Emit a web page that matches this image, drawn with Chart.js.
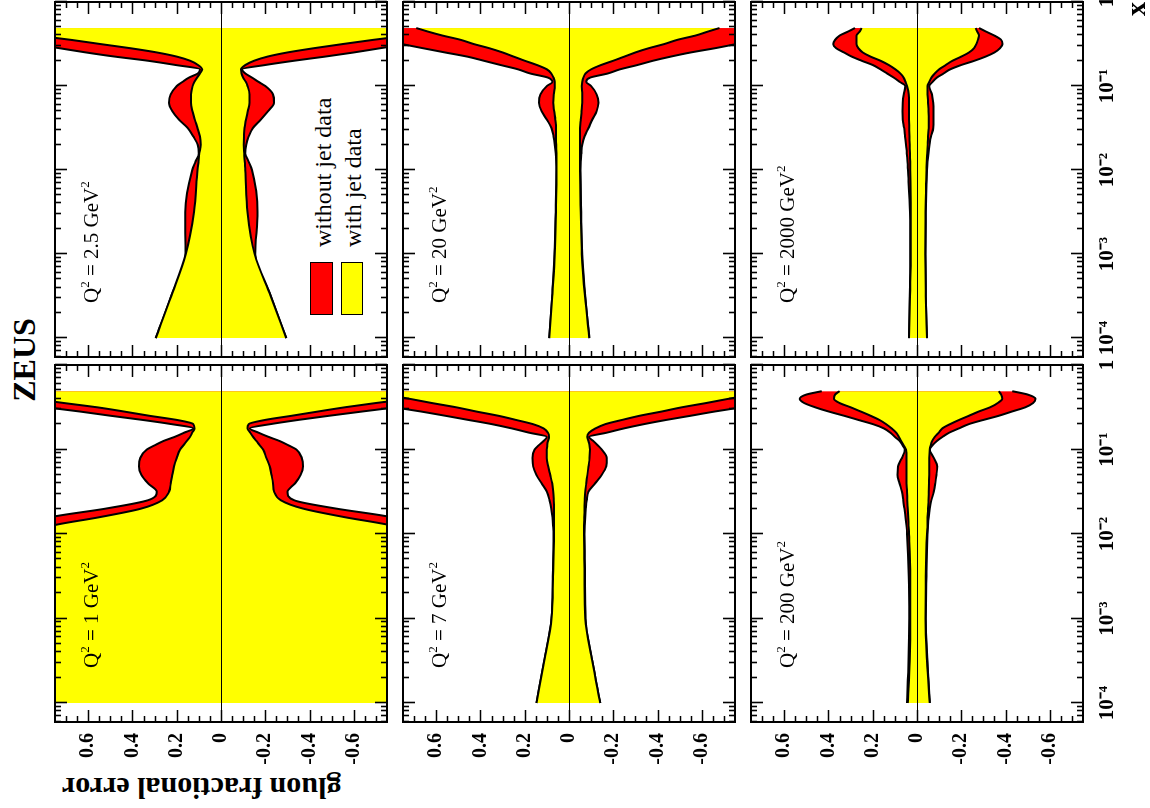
<!DOCTYPE html>
<html lang="en">
<head>
  <meta charset="UTF-8" />
  <title>ZEUS gluon fractional error</title>
  <script src="https://cdn.jsdelivr.net/npm/chart.js"></script>
  <style>
    html, body { margin: 0; padding: 0; background: #fff; overflow: hidden; }
    body { width: 1150px; height: 808px; position: relative; font-family: 'Liberation Serif', 'Times New Roman', serif; color: #000; }
    /* the figure is laid out upright (808 x 1150) and turned a quarter left */
    #page { position: absolute; left: 0; top: 0; width: 808px; height: 1150px; transform-origin: 0 0; transform: translate(0, 808px) rotate(-90deg); }
    #page canvas { position: absolute; }
    .txt { position: absolute; white-space: nowrap; }
    .q2 { font-size: 21px; line-height: 21px; }
    .q2 sup { font-size: 13px; vertical-align: 9px; line-height: 0; }
    .zeus { left: 348px; top: 8px; width: 200px; text-align: center; font-size: 32px; line-height: 32px; font-weight: bold; }
    .ytitle { left: 5px; top: 343px; width: 281px; text-align: right; font-size: 30px; line-height: 30px; font-weight: bold; transform-origin: 0 0; transform: rotate(-90deg); }
    .box { position: absolute; box-sizing: border-box; border: 1.5px solid #000; }
    .leg { font-size: 24px; line-height: 24px; }
  </style>
</head>
<body>
  <div id="page">
    <div class="txt zeus">ZEUS</div>
    <div class="txt ytitle">gluon fractional error</div>
    <div class="box" style="left:493px; top:310px; width:53px; height:23px; background:#ff0000;"></div>
    <div class="box" style="left:493px; top:341px; width:53px; height:22px; background:#ffff00;"></div>
    <div class="txt leg" style="left:561px; top:311px;">without jet data</div>
    <div class="txt leg" style="left:561px; top:341px;">with jet data</div>
  </div>

  <script>
    // x grid shared by all panels
    const xGrid = [0.0001, 0.000316, 0.001, 0.00316, 0.01, 0.0126, 0.0158, 0.02, 0.0251, 0.0316,
                   0.0398, 0.0501, 0.0631, 0.0794, 0.1, 0.112, 0.126, 0.141, 0.158, 0.178,
                   0.2, 0.224, 0.251, 0.282, 0.316, 0.355, 0.398, 0.447, 0.49];

    const xTickValues = [0.0001, 0.001, 0.01, 0.1, 1];
    const xTickLabels = ['10⁻⁴', '10⁻³', '10⁻²', '10⁻¹', '1'];
    const yTickValues = [-0.6, -0.4, -0.2, 0, 0.2, 0.4, 0.6];
    const yTickLabels = ['-0.6', '-0.4', '-0.2', '0', '0.2', '0.4', '0.6'];
    const q2Labels = ['1', '2.5', '7', '20', '200', '2000'];

    // Q2 = 1 GeV2
    const q1WithUp = [1.2, 1.15, 1.1, 1.0, 0.85, 0.76, 0.55, 0.36, 0.265, 0.235, 0.227, 0.22, 0.212, 0.2, 0.185, 0.17, 0.155, 0.14, 0.13, 0.12, 0.125, 0.2, 0.325, 0.44, 0.56, 0.71, 0.85, 0.98, 1.08];
    const q1WithDn = [-1.2, -1.15, -1.1, -1.0, -0.86, -0.77, -0.56, -0.37, -0.27, -0.24, -0.235, -0.228, -0.22, -0.205, -0.19, -0.175, -0.16, -0.145, -0.132, -0.12, -0.125, -0.2, -0.32, -0.44, -0.56, -0.7, -0.85, -0.98, -1.08];
    const q1NoJetUp = [1.3, 1.25, 1.2, 1.1, 0.95, 0.86, 0.77, 0.52, 0.33, 0.29, 0.33, 0.36, 0.37, 0.365, 0.335, 0.3, 0.26, 0.21, 0.167, 0.125, 0.225, 0.355, 0.5, 0.64, 0.79, 0.93, 1.05, 1.15, 1.2];
    const q1NoJetDn = [-1.3, -1.25, -1.2, -1.1, -0.95, -0.86, -0.77, -0.52, -0.33, -0.3, -0.335, -0.36, -0.371, -0.365, -0.34, -0.305, -0.265, -0.215, -0.17, -0.13, -0.225, -0.35, -0.49, -0.64, -0.79, -0.93, -1.05, -1.15, -1.2];

    // Q2 = 2.5 GeV2
    const q25WithUp = [0.295, 0.225, 0.159, 0.122, 0.106, 0.102, 0.098, 0.092, 0.095, 0.106, 0.118, 0.129, 0.136, 0.136, 0.128, 0.12, 0.108, 0.095, 0.085, 0.104, 0.14, 0.2, 0.29, 0.41, 0.545, 0.68, 0.83, 0.98, 1.1];
    const q25WithDn = [-0.295, -0.225, -0.152, -0.12, -0.11, -0.107, -0.105, -0.103, -0.104, -0.106, -0.113, -0.121, -0.129, -0.129, -0.12, -0.112, -0.1, -0.093, -0.09, -0.11, -0.15, -0.21, -0.3, -0.42, -0.55, -0.69, -0.84, -1.0, -1.1];
    const q25NoJetUp = [0.295, 0.225, 0.16, 0.162, 0.13, 0.115, 0.1, 0.105, 0.125, 0.15, 0.19, 0.22, 0.235, 0.228, 0.2, 0.174, 0.145, 0.105, 0.095, 0.205, 0.33, 0.48, 0.61, 0.73, 0.85, 0.96, 1.05, 1.15, 1.2];
    const q25NoJetDn = [-0.295, -0.225, -0.155, -0.165, -0.14, -0.125, -0.11, -0.114, -0.125, -0.144, -0.18, -0.212, -0.24, -0.235, -0.2, -0.17, -0.14, -0.11, -0.095, -0.2, -0.33, -0.47, -0.6, -0.72, -0.84, -0.95, -1.05, -1.15, -1.2];

    // Q2 = 7 GeV2
    const q7WithUp = [0.147, 0.112, 0.079, 0.072, 0.068, 0.068, 0.068, 0.068, 0.069, 0.071, 0.076, 0.085, 0.094, 0.1, 0.1, 0.098, 0.095, 0.09, 0.095, 0.115, 0.164, 0.24, 0.32, 0.42, 0.51, 0.62, 0.72, 0.83, 0.92];
    const q7WithDn = [-0.141, -0.105, -0.073, -0.07, -0.068, -0.068, -0.069, -0.07, -0.071, -0.073, -0.078, -0.083, -0.088, -0.093, -0.095, -0.093, -0.088, -0.082, -0.09, -0.12, -0.165, -0.24, -0.32, -0.42, -0.51, -0.62, -0.72, -0.83, -0.92];
    const q7NoJetUp = [0.147, 0.112, 0.079, 0.073, 0.07, 0.072, 0.075, 0.08, 0.088, 0.1, 0.124, 0.147, 0.162, 0.165, 0.155, 0.137, 0.115, 0.1, 0.18, 0.26, 0.35, 0.455, 0.56, 0.67, 0.79, 0.9, 1.0, 1.1, 1.15];
    const q7NoJetDn = [-0.141, -0.105, -0.075, -0.072, -0.07, -0.071, -0.073, -0.076, -0.08, -0.088, -0.118, -0.148, -0.168, -0.171, -0.148, -0.13, -0.11, -0.09, -0.17, -0.25, -0.34, -0.44, -0.55, -0.66, -0.78, -0.89, -1.0, -1.1, -1.15];

    // Q2 = 20 GeV2
    const q20WithUp = [0.089, 0.076, 0.064, 0.059, 0.056, 0.056, 0.057, 0.058, 0.059, 0.059, 0.062, 0.067, 0.071, 0.069, 0.064, 0.064, 0.07, 0.08, 0.1, 0.145, 0.2, 0.25, 0.3, 0.36, 0.43, 0.49, 0.57, 0.64, 0.69];
    const q20WithDn = [-0.092, -0.072, -0.058, -0.053, -0.05, -0.05, -0.05, -0.05, -0.05, -0.05, -0.053, -0.057, -0.06, -0.06, -0.058, -0.06, -0.065, -0.075, -0.1, -0.145, -0.2, -0.25, -0.3, -0.36, -0.43, -0.49, -0.57, -0.63, -0.68];
    const q20NoJetUp = [0.089, 0.076, 0.065, 0.06, 0.057, 0.058, 0.06, 0.064, 0.07, 0.079, 0.1, 0.124, 0.135, 0.129, 0.1, 0.075, 0.095, 0.175, 0.23, 0.31, 0.385, 0.46, 0.56, 0.66, 0.755, 0.85, 0.94, 1.0, 1.02];
    const q20NoJetDn = [-0.092, -0.073, -0.06, -0.055, -0.052, -0.053, -0.056, -0.06, -0.07, -0.088, -0.105, -0.125, -0.133, -0.125, -0.1, -0.078, -0.095, -0.175, -0.23, -0.31, -0.38, -0.46, -0.55, -0.66, -0.755, -0.85, -0.94, -1.0, -1.02];

    // Q2 = 200 GeV2
    const q200WithUp = [0.042, 0.033, 0.03, 0.03, 0.036, 0.038, 0.04, 0.042, 0.044, 0.045, 0.047, 0.048, 0.048, 0.047, 0.05, 0.06, 0.072, 0.082, 0.094, 0.115, 0.14, 0.17, 0.21, 0.255, 0.3, 0.35, 0.375, 0.37, 0.35];
    const q200WithDn = [-0.058, -0.045, -0.038, -0.04, -0.045, -0.047, -0.048, -0.05, -0.052, -0.053, -0.054, -0.055, -0.055, -0.055, -0.058, -0.062, -0.068, -0.08, -0.098, -0.115, -0.15, -0.19, -0.235, -0.28, -0.33, -0.365, -0.385, -0.38, -0.37];
    const q200NoJetUp = [0.045, 0.038, 0.035, 0.037, 0.045, 0.048, 0.052, 0.057, 0.062, 0.068, 0.079, 0.088, 0.086, 0.068, 0.055, 0.065, 0.078, 0.1, 0.12, 0.15, 0.2, 0.265, 0.33, 0.4, 0.46, 0.51, 0.53, 0.5, 0.43];
    const q200NoJetDn = [-0.058, -0.047, -0.04, -0.043, -0.048, -0.05, -0.053, -0.058, -0.065, -0.076, -0.083, -0.088, -0.091, -0.076, -0.058, -0.07, -0.09, -0.115, -0.145, -0.19, -0.235, -0.3, -0.37, -0.43, -0.49, -0.525, -0.535, -0.5, -0.43];

    // Q2 = 2000 GeV2
    const q2000WithUp = [0.036, 0.032, 0.028, 0.028, 0.03, 0.031, 0.032, 0.033, 0.034, 0.035, 0.036, 0.036, 0.036, 0.037, 0.045, 0.052, 0.06, 0.075, 0.098, 0.128, 0.165, 0.21, 0.245, 0.265, 0.273, 0.273, 0.273, 0.258, 0.25];
    const q2000WithDn = [-0.045, -0.04, -0.037, -0.038, -0.043, -0.044, -0.046, -0.048, -0.05, -0.053, -0.053, -0.052, -0.05, -0.048, -0.047, -0.055, -0.065, -0.08, -0.1, -0.13, -0.16, -0.2, -0.235, -0.258, -0.268, -0.275, -0.28, -0.272, -0.265];
    const q2000NoJetUp = [0.036, 0.033, 0.03, 0.032, 0.041, 0.043, 0.046, 0.05, 0.054, 0.058, 0.064, 0.065, 0.064, 0.06, 0.053, 0.078, 0.105, 0.135, 0.165, 0.2, 0.25, 0.295, 0.33, 0.365, 0.378, 0.37, 0.35, 0.31, 0.28];
    const q2000NoJetDn = [-0.045, -0.04, -0.038, -0.04, -0.045, -0.048, -0.052, -0.057, -0.063, -0.073, -0.074, -0.074, -0.073, -0.068, -0.055, -0.07, -0.09, -0.12, -0.15, -0.2, -0.26, -0.31, -0.35, -0.375, -0.386, -0.38, -0.35, -0.31, -0.28];

    const YELLOW = '#ffff00';
    const RED = '#ff0000';
    const FONT = '"Liberation Serif", "Times New Roman", serif';
    const X_MIN = 0.0000596;   // left edge of every frame, a bit below 1e-4

    // frame rectangles in the upright layout (px)
    const PAD = 10;
    const PAGE_H = 1150;
    const colX = [[86, 443], [451, 806]];
    const rowY = [[55, 387], [403, 735], [751, 1083]];

    const panels = [
      { row: 0, col: 0, up: q1WithUp, dn: q1WithDn, noUp: q1NoJetUp, noDn: q1NoJetDn },
      { row: 0, col: 1, up: q25WithUp, dn: q25WithDn, noUp: q25NoJetUp, noDn: q25NoJetDn },
      { row: 1, col: 0, up: q7WithUp, dn: q7WithDn, noUp: q7NoJetUp, noDn: q7NoJetDn },
      { row: 1, col: 1, up: q20WithUp, dn: q20WithDn, noUp: q20NoJetUp, noDn: q20NoJetDn },
      { row: 2, col: 0, up: q200WithUp, dn: q200WithDn, noUp: q200NoJetUp, noDn: q200NoJetDn },
      { row: 2, col: 1, up: q2000WithUp, dn: q2000WithDn, noUp: q2000NoJetUp, noDn: q2000NoJetDn }
    ];

    Chart.defaults.font.family = FONT;
    Chart.defaults.color = '#000';

    // frame, inward ticks on all four sides and the zero line
    const frameTicks = {
      id: 'frameTicks',
      afterDatasetsDraw(chart) {
        const { ctx, chartArea: a, scales: { x, y } } = chart;
        ctx.save();
        ctx.strokeStyle = '#000';
        ctx.lineWidth = 1.2;
        const y0 = Math.round(y.getPixelForValue(0)) + 0.5;
        ctx.beginPath();
        ctx.moveTo(a.left, y0);
        ctx.lineTo(a.right, y0);
        ctx.stroke();

        ctx.lineWidth = 1.6;
        ctx.beginPath();
        for (let e = -5; e <= 0; e++) {
          for (let k = 1; k <= 9; k++) {
            const v = k * Math.pow(10, e);
            if (v < x.min || v > x.max) continue;
            const px = Math.round(x.getPixelForValue(v)) + 0.5;
            const len = k === 1 ? 12 : 6;
            ctx.moveTo(px, a.bottom); ctx.lineTo(px, a.bottom - len);
            ctx.moveTo(px, a.top); ctx.lineTo(px, a.top + len);
          }
        }
        for (let i = -14; i <= 14; i++) {
          const py = Math.round(y.getPixelForValue(i * 0.05)) + 0.5;
          const len = i % 4 === 0 ? 12 : 6;
          ctx.moveTo(a.left, py); ctx.lineTo(a.left + len, py);
          ctx.moveTo(a.right, py); ctx.lineTo(a.right - len, py);
        }
        ctx.stroke();

        ctx.lineWidth = 2;
        ctx.strokeRect(a.left, a.top, a.right - a.left, a.bottom - a.top);
        ctx.restore();
      }
    };

    function band(values, color) {
      return {
        data: values.map((v, i) => ({ x: xGrid[i], y: v })),
        borderColor: '#000',
        borderWidth: 2,
        backgroundColor: color,
        fill: 'origin',
        pointRadius: 0,
        cubicInterpolationMode: 'monotone'
      };
    }

    const page = document.getElementById('page');

    panels.forEach((p, idx) => {
      const [cl, cr] = colX[p.col];
      const [rt, rb] = rowY[p.row];
      const leftCol = p.col === 0;
      const bottomRow = p.row === 2;
      const axisW = leftCol ? cl : PAD;
      const axisH = bottomRow ? PAGE_H - rb : PAD;

      const canvas = document.createElement('canvas');
      canvas.width = axisW + (cr - cl) + PAD;
      canvas.height = PAD + (rb - rt) + axisH;
      canvas.style.left = (cl - axisW) + 'px';
      canvas.style.top = (rt - PAD) + 'px';
      page.appendChild(canvas);

      // Q2 label inside the frame
      const lbl = document.createElement('div');
      lbl.className = 'txt q2';
      lbl.style.left = (cl + 54) + 'px';
      lbl.style.top = (rt + 26) + 'px';
      lbl.innerHTML = 'Q<sup>2</sup> = ' + q2Labels[idx] + ' GeV<sup>2</sup>';
      page.appendChild(lbl);

      new Chart(canvas, {
        type: 'line',
        data: {
          datasets: [
            band(p.up, YELLOW),
            band(p.dn, YELLOW),
            band(p.noUp, RED),
            band(p.noDn, RED)
          ]
        },
        options: {
          responsive: false,
          animation: false,
          devicePixelRatio: 1,
          layout: { padding: { top: PAD, right: PAD, left: 0, bottom: 0 } },
          plugins: { legend: { display: false }, tooltip: { enabled: false } },
          scales: {
            x: {
              type: 'logarithmic',
              min: X_MIN,
              max: 1,
              grid: { display: false, drawTicks: false },
              border: { display: false },
              afterBuildTicks: s => { s.ticks = xTickValues.map(v => ({ value: v })); },
              afterFit: s => { s.height = axisH; s.paddingLeft = 0; s.paddingRight = 0; },
              ticks: {
                display: bottomRow,
                autoSkip: false,
                maxRotation: 0,
                minRotation: 0,
                padding: 12,
                font: { size: 21, weight: 'bold' },
                callback: (v, i) => xTickLabels[i]
              },
              title: {
                display: bottomRow && !leftCol,
                text: 'x',
                align: 'end',
                padding: { top: 0, bottom: 0 },
                font: { size: 28, weight: 'bold', lineHeight: 0.9 }
              }
            },
            y: {
              min: -0.75,
              max: 0.75,
              grid: { display: false, drawTicks: false },
              border: { display: false },
              afterBuildTicks: s => { s.ticks = yTickValues.map(v => ({ value: v })); },
              afterFit: s => { s.width = axisW; s.paddingTop = 0; s.paddingBottom = 0; },
              ticks: {
                display: leftCol,
                padding: 11,
                font: { size: 20, weight: 'bold' },
                callback: (v, i) => yTickLabels[i]
              }
            }
          }
        },
        plugins: [frameTicks]
      });
    });
  </script>
</body>
</html>
